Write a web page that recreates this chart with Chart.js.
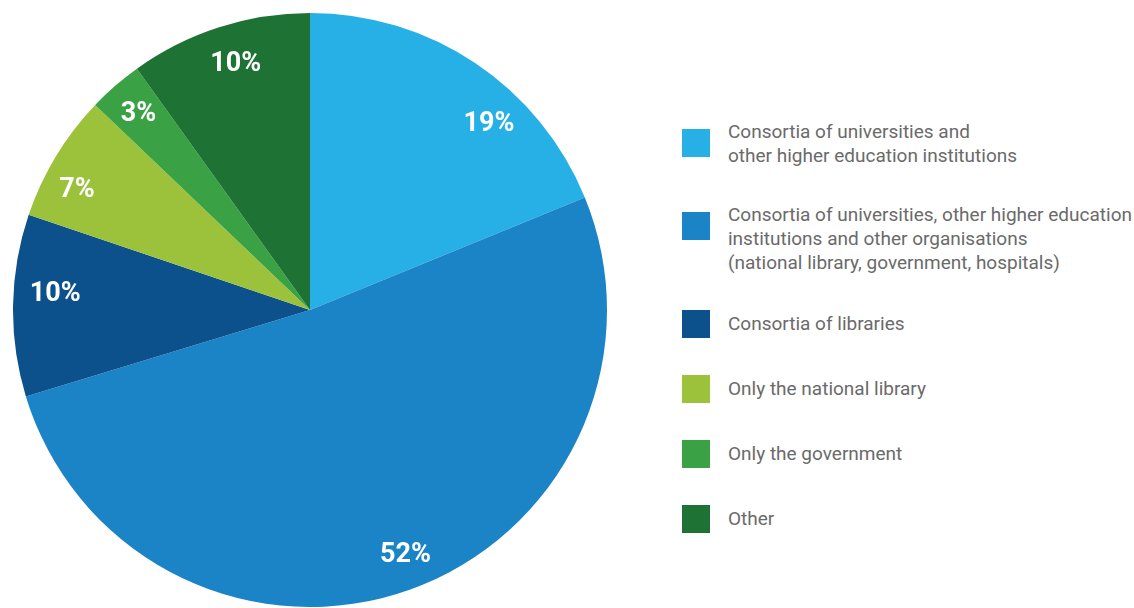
<!DOCTYPE html>
<html>
<head>
<meta charset="utf-8">
<script src="https://cdn.jsdelivr.net/npm/chart.js@4/dist/chart.umd.min.js"></script>
<style>
  html, body { margin: 0; padding: 0; background: #fff; }
  body { width: 1134px; height: 608px; position: relative; overflow: hidden; font-family: Roboto, "Open Sans", sans-serif; }
  #pieBox { position: absolute; left: 13px; top: 13px; width: 594px; height: 594px; }
  #legend { position: absolute; left: 682px; top: 120px; width: 470px; }
  .item { display: flex; align-items: center; margin-bottom: 37px; }
  .item.multi { align-items: flex-start; margin-bottom: 35px; }
  .swatch { width: 28px; height: 28px; flex: none; margin-right: 18px; }
  .item.multi .swatch { margin-top: 9px; }
  .label { font-size: 19px; line-height: 24px; color: #6a6a6a; white-space: nowrap; }
</style>
</head>
<body>
<div id="pieBox"><canvas id="pieChart"></canvas></div>
<div id="legend"></div>

<script>
// Data
const categories = [
    ["Consortia of universities and", "other higher education institutions"],
    ["Consortia of universities, other higher education", "institutions and other organisations", "(national library, government, hospitals)"],
    ["Consortia of libraries"],
    ["Only the national library"],
    ["Only the government"],
    ["Other"]
];
const shares = [19, 52, 10, 7, 3, 10];
const sliceColors = ["#26b0e6", "#1a84c6", "#0c508c", "#9cc23c", "#3aa144", "#1e7334"];

// label placement (fraction of radius, extra angle in degrees)
const labelRadius = [0.874, 0.88, 0.86, 0.885, 0.88, 0.87];
const labelShift = [9.7, -1.8, 3.1, -3.6, 0, 1.1];

// Build legend
document.addEventListener("DOMContentLoaded", function () {
    const legend = document.getElementById("legend");
    categories.forEach(function (lines, i) {
        const item = document.createElement("div");
        item.className = lines.length > 1 ? "item multi" : "item";
        const sw = document.createElement("div");
        sw.className = "swatch";
        sw.style.background = sliceColors[i];
        const txt = document.createElement("div");
        txt.className = "label";
        txt.innerHTML = lines.join("<br>");
        item.appendChild(sw);
        item.appendChild(txt);
        legend.appendChild(item);
    });
});

// Percent labels drawn on the slices
const sliceLabels = {
    id: "sliceLabels",
    afterDatasetsDraw(chart) {
        const ctx = chart.ctx;
        const arcs = chart.getDatasetMeta(0).data;
        ctx.save();
        ctx.fillStyle = "#ffffff";
        ctx.font = "bold 27px Roboto, sans-serif";
        ctx.textAlign = "center";
        ctx.textBaseline = "middle";
        arcs.forEach(function (arc, i) {
            const p = arc.getProps(["x", "y", "startAngle", "endAngle", "outerRadius"], true);
            const mid = (p.startAngle + p.endAngle) / 2 + labelShift[i] * Math.PI / 180;
            const r = p.outerRadius * labelRadius[i];
            // digits sit a bit high on "middle", nudge down
            ctx.fillText(shares[i] + "%", p.x + Math.cos(mid) * r, p.y + Math.sin(mid) * r + 2);
        });
        ctx.restore();
    }
};

new Chart(document.getElementById("pieChart").getContext("2d"), {
    type: "pie",
    data: {
        labels: categories.map(function (l) { return l.join(" "); }),
        datasets: [{
            data: shares,
            backgroundColor: sliceColors,
            borderWidth: 0
        }]
    },
    options: {
        responsive: true,
        maintainAspectRatio: false,
        animation: false,
        layout: { padding: 0 },
        plugins: {
            legend: { display: false },
            tooltip: { enabled: false }
        }
    },
    plugins: [sliceLabels]
});
</script>
</body>
</html>
